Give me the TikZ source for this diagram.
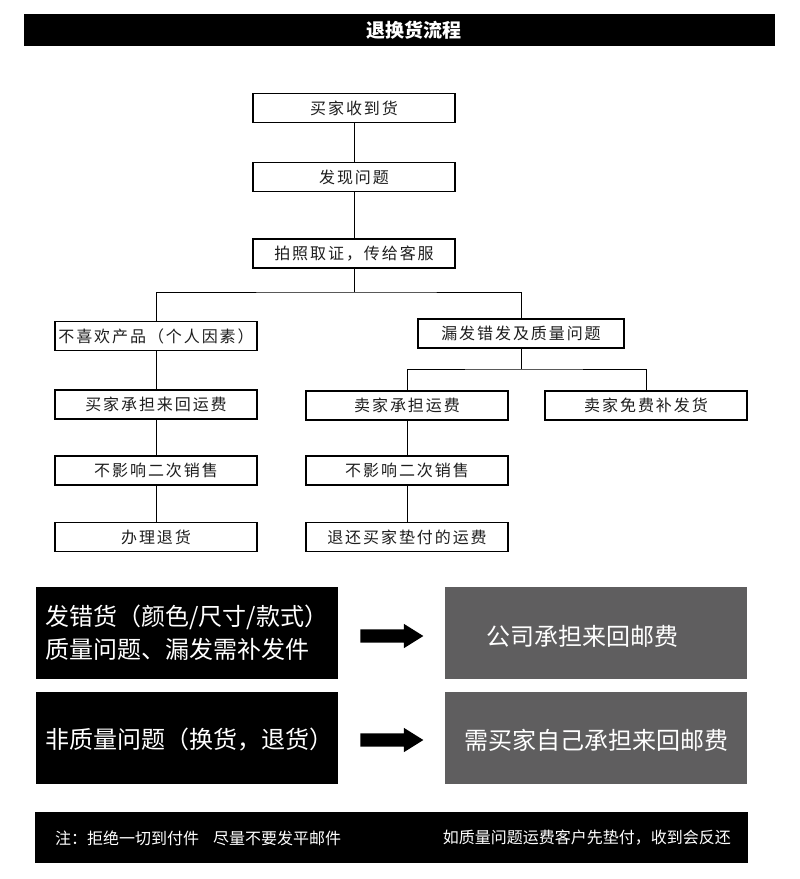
\documentclass[tikz,border=0pt]{standalone}
\usepackage{fontspec}
\usetikzlibrary{shapes.arrows}
\newfontfamily\cjk{Noto Sans CJK SC}
\newfontfamily\cjksp[LetterSpace=12]{Noto Sans CJK SC}
\definecolor{darkgray5}{RGB}{95,94,95}
\definecolor{boxtext}{RGB}{30,30,30}
\tikzset{
  flowbox/.style={draw=black, line width=1.3pt, fill=white, minimum width=202pt, minimum height=29pt, inner sep=0pt, text=boxtext, font=\cjksp\fontsize{16}{18}\selectfont},
  link/.style={draw=black, line width=1pt},
  blackbox/.style={fill=black, minimum width=302pt, minimum height=92pt, inner sep=0pt},
  graybox/.style={fill=darkgray5, minimum width=302pt, minimum height=92pt, inner sep=0pt},
  bigtext/.style={text=white, font=\cjk\fontsize{24}{33}\selectfont, align=left, inner sep=0pt},
  fattarrow/.style={single arrow, fill=black, minimum height=63pt, inner sep=6.5pt, single arrow head extend=5.5pt, single arrow tip angle=64}
}
\begin{document}
\begin{tikzpicture}[x=1pt,y=-1pt]
\useasboundingbox (0,0) rectangle (800,879);
% title
\node[fill=black, minimum width=751pt, minimum height=32pt, inner sep=0pt] (title) at (399.5,30) {};
\node[text=white, font=\cjk\bfseries\fontsize{19}{20}\selectfont] (titletext) at (414,30) {退换货流程};
% flowchart
\node[flowbox] (b1) at (354,108) {买家收到货};
\node[flowbox] (b2) at (354,177) {发现问题};
\node[flowbox] (b3) at (354,253.5) {拍照取证，传给客服};
\node[flowbox] (l1) at (156,336) {不喜欢产品（个人因素）};
\node[flowbox, minimum width=206pt] (r1) at (521,333.5) {漏发错发及质量问题};
\node[flowbox] (l2) at (156,404.5) {买家承担来回运费};
\node[flowbox] (l3) at (156,470.5) {不影响二次销售};
\node[flowbox] (l4) at (156,537) {办理退货};
\node[flowbox] (m2) at (407,405.5) {卖家承担运费};
\node[flowbox] (m3) at (407,470.5) {不影响二次销售};
\node[flowbox] (m4) at (407,537) {退还买家垫付的运费};
\node[flowbox] (n2) at (646,405.5) {卖家免费补发货};
\coordinate (j1) at (354,292);
\coordinate (j2) at (521,369);
\draw[link] (b1) -- (b2);
\draw[link] (b2) -- (b3);
\draw[link] (b3) -- (j1);
\draw[link] (l1.north) |- (j1) -| (r1.north);
\draw[link] (r1) -- (j2);
\draw[link] (m2.north) |- (j2) -| (n2.north);
\draw[link] (l1) -- (l2);
\draw[link] (l2) -- (l3);
\draw[link] (l3) -- (l4);
\draw[link] (m2) -- (m3);
\draw[link] (m3) -- (m4);
% bottom section
\node[blackbox] (k1) at (187,633) {};
\node[bigtext, anchor=west] (k1t) at (45,633) {发错货（颜色/尺寸/款式）\\质量问题、漏发需补发件};
\node[graybox] (g1) at (596,633) {};
\node[bigtext] (g1t) at (582,636) {公司承担来回邮费};
\node[fattarrow] (a1) at (386.5,636) {};
\node[blackbox] (k2) at (187,737.5) {};
\node[bigtext, anchor=west] (k2t) at (45,740) {非质量问题（换货，退货）};
\node[graybox] (g2) at (596,737.5) {};
\node[bigtext] (g2t) at (596,740) {需买家自己承担来回邮费};
\node[fattarrow] (a2) at (386.5,740) {};
% footer
\node[fill=black, minimum width=713pt, minimum height=51pt, inner sep=0pt] (foot) at (391.5,837.5) {};
\node[text=white, anchor=west, inner sep=0pt, font=\cjk\fontsize{16}{18}\selectfont] (f1) at (55,838) {注：拒绝一切到付件\hspace{14pt}尽量不要发平邮件};
\node[text=white, anchor=east, inner sep=0pt, font=\cjk\fontsize{16}{18}\selectfont] (f2) at (731,838) {如质量问题运费客户先垫付，收到会反还};
\end{tikzpicture}
\end{document}
